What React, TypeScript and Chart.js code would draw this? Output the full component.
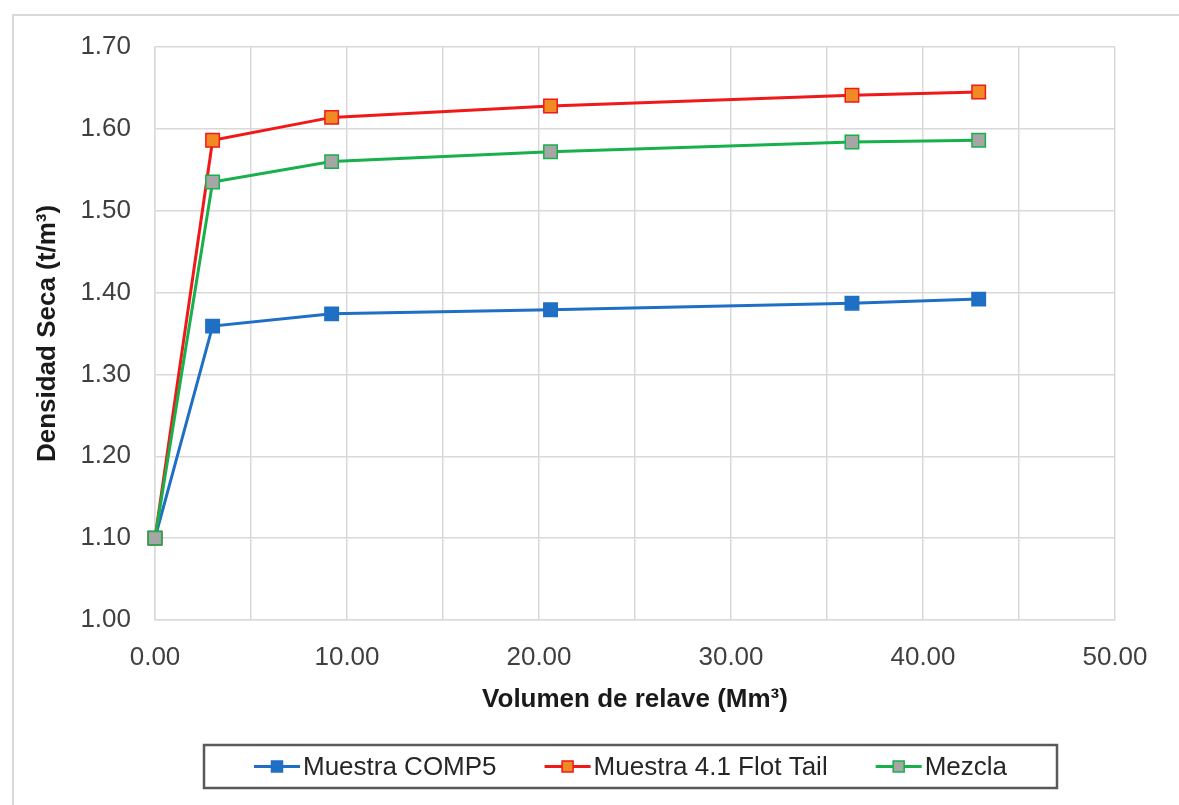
import React, { useEffect, useRef } from "react";
import { Chart, registerables } from "chart.js";

Chart.register(...registerables);

const xValues = [0, 3.0, 9.2, 20.6, 36.3, 42.9];
const comp5 = [1.1, 1.359, 1.374, 1.379, 1.387, 1.392];
const flotTail = [1.1, 1.586, 1.614, 1.628, 1.641, 1.645];
const mezcla = [1.1, 1.535, 1.56, 1.572, 1.584, 1.586];
const seriesNames = ["Muestra COMP5", "Muestra 4.1 Flot Tail", "Mezcla"];
const xTitle = "Volumen de relave (Mm³)";
const yTitle = "Densidad Seca (t/m³)";

const FONT = "'Liberation Sans', Arial, sans-serif";

const toPts = (ys: number[]) => xValues.map((x, i) => ({ x, y: ys[i] }));

export default function App() {
  const ref = useRef<HTMLCanvasElement | null>(null);

  useEffect(() => {
    if (!ref.current) return;
    const decor = {
      id: "decor",
      beforeDraw(chart: any) {
        const c = chart.ctx;
        c.save();
        c.fillStyle = "#ffffff";
        c.fillRect(0, 0, chart.width, chart.height);
        c.strokeStyle = "#d9d9d9";
        c.lineWidth = 2;
        c.beginPath();
        c.moveTo(13, chart.height);
        c.lineTo(13, 15);
        c.lineTo(chart.width, 15);
        c.stroke();
        c.restore();
      },
      afterDraw(chart: any) {
        const c = chart.ctx;
        const a = chart.chartArea;
        c.save();
        c.fillStyle = "#1a1a1a";
        c.font = `bold 26px ${FONT}`;
        c.textAlign = "center";
        c.textBaseline = "middle";
        c.fillText(xTitle, (a.left + a.right) / 2, 700);
        c.translate(48, (a.top + a.bottom) / 2);
        c.rotate(-Math.PI / 2);
        c.fillText(yTitle, 0, 0);
        c.restore();

        // legend
        c.save();
        const boxL = 204, boxR = 1057, boxT = 745, boxB = 788;
        c.strokeStyle = "#595959";
        c.lineWidth = 2.5;
        c.strokeRect(boxL, boxT, boxR - boxL, boxB - boxT);
        c.font = `26px ${FONT}`;
        c.textBaseline = "middle";
        c.textAlign = "left";
        const lineLen = 46, gapText = 3, gapItem = 48;
        const ds = chart.data.datasets;
        const widths = ds.map((d: any) => lineLen + gapText + c.measureText(d.label).width);
        const total = widths.reduce((s: number, w: number) => s + w, 0) + gapItem * (ds.length - 1);
        let x = (boxL + boxR) / 2 - total / 2;
        const cy = (boxT + boxB) / 2;
        ds.forEach((d: any, i: number) => {
          c.strokeStyle = d.borderColor;
          c.lineWidth = 3;
          c.beginPath();
          c.moveTo(x, cy);
          c.lineTo(x + lineLen, cy);
          c.stroke();
          const s = 11;
          c.fillStyle = d.pointBackgroundColor;
          c.fillRect(x + lineLen / 2 - s / 2, cy - s / 2, s, s);
          c.strokeStyle = d.pointBorderColor;
          c.lineWidth = 1.5;
          c.strokeRect(x + lineLen / 2 - s / 2, cy - s / 2, s, s);
          c.fillStyle = "#262626";
          c.fillText(d.label, x + lineLen + gapText, cy + 1);
          x += widths[i] + gapItem;
        });
        c.restore();
      },
    };

    const mk = (label: string, ys: number[], line: string, fill: string, order: number) => ({
      label,
      data: toPts(ys),
      order,
      borderColor: line,
      backgroundColor: fill,
      pointBackgroundColor: fill,
      pointBorderColor: line,
      pointBorderWidth: 1.5,
      pointStyle: "rect",
      pointRadius: 9.5,
      borderWidth: 3,
      tension: 0,
      clip: false,
      fill: false,
    });

    const chart = new Chart(ref.current, {
      type: "line",
      data: {
        datasets: [
          mk(seriesNames[0], comp5, "#1f6fc4", "#1f6fc4", 3),
          mk(seriesNames[1], flotTail, "#f01818", "#f08a24", 2),
          mk(seriesNames[2], mezcla, "#18b04a", "#a6a6a6", 1),
        ],
      },
      options: {
        animation: false,
        responsive: false,
        devicePixelRatio: 1,
        layout: { padding: { top: 47, right: 64, left: 0, bottom: 0 } },
        plugins: { legend: { display: false }, tooltip: { enabled: false } },
        scales: {
          x: {
            type: "linear",
            min: 0,
            max: 50,
            afterFit: (s: any) => { s.height = 185; },
            grid: { color: "#d9d9d9", lineWidth: 1.5, drawTicks: false },
            border: { color: "#d9d9d9", width: 1.5 },
            ticks: {
              stepSize: 5,
              autoSkip: false,
              maxRotation: 0,
              padding: 22,
              color: "#404040",
              font: { size: 26, family: FONT },
              callback: (v: any) => (Math.round(v) % 10 === 0 ? Number(v).toFixed(2) : ""),
            },
          },
          y: {
            type: "linear",
            min: 1.0,
            max: 1.7,
            afterFit: (s: any) => { s.width = 155; },
            grid: { color: "#d9d9d9", lineWidth: 1.5, drawTicks: false },
            border: { color: "#d9d9d9", width: 1.5 },
            ticks: {
              stepSize: 0.1,
              padding: 24,
              color: "#404040",
              font: { size: 26, family: FONT },
              callback: (v: any) => Number(v).toFixed(2),
            },
          },
        },
      },
      plugins: [decor],
    } as any);
    return () => chart.destroy();
  }, []);

  return (
    <div style={{ position: "absolute", left: 0, top: 0, width: 1179, height: 805 }}>
      <canvas ref={ref} width={1179} height={805} style={{ width: 1179, height: 805 }} />
    </div>
  );
}
